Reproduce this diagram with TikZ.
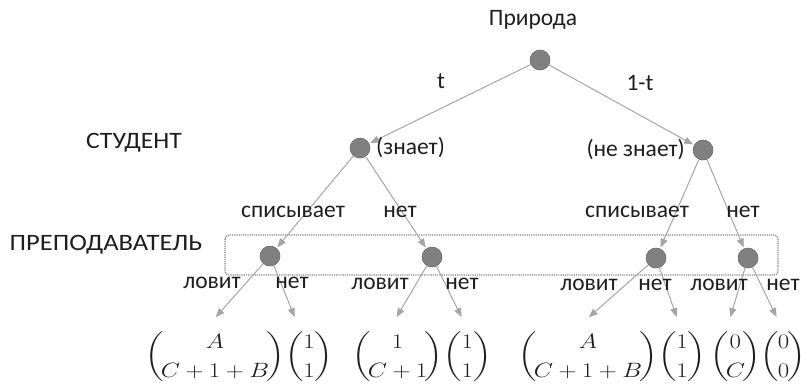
\documentclass[tikz,border=0pt]{standalone}
\usepackage{fontspec}
\usepackage{amsmath}
\usepackage{graphicx}
\setmainfont{Carlito}
\usetikzlibrary{arrows.meta}
\definecolor{edgegray}{RGB}{165,165,165}
\definecolor{dotfill}{RGB}{128,128,128}
\definecolor{ink}{RGB}{30,30,30}
% payoff vector: #1 = padding inside the parentheses, #2 / #3 = entries
\newcommand\payvec[3]{\scalebox{1.2}[1]{$\delimiterfactor=800 \delimitershortfall=10pt
  \renewcommand\arraystretch{1.15}%
  \left(\mskip#1\begin{array}{@{}c@{}}#2\\ #3\end{array}\mskip#1\right)$}}
\tikzset{
  choice/.style={circle,fill=dotfill,draw=dotfill!85!black,line width=0.6pt,minimum size=20pt,inner sep=0pt},
  lbl/.style={text=ink,font=\fontsize{23.5}{27}\selectfont,inner sep=0pt},
  pay/.style={text=ink,font=\fontsize{20}{25}\selectfont,inner sep=0pt},
  move/.style={draw=edgegray,line width=1pt,-{Triangle[length=9pt,width=7pt]},shorten >=1pt},
  infoset/.style={draw=edgegray!80!black,densely dotted,line width=1.2pt,rounded corners=4pt}
}
\begin{document}
\begin{tikzpicture}[x=1pt,y=-1pt]
\useasboundingbox (0,0) rectangle (808,384);

% information set of the teacher
\draw[infoset] (225,235) rectangle (778,275);

% decision nodes
\node[choice] (root) at (540,60) {};
\node[choice] (knows) at (360,148) {};
\node[choice] (notknows) at (703,150) {};
\node[choice] (t1) at (270,256) {};
\node[choice] (t2) at (432,257) {};
\node[choice] (t3) at (656,258) {};
\node[choice] (t4) at (748,258) {};

% terminal arrow ends
\coordinate (e1) at (215,318);
\coordinate (e2) at (295,318);
\coordinate (e3) at (396,318);
\coordinate (e4) at (462,318);
\coordinate (e5) at (588,318);
\coordinate (e6) at (677,318);
\coordinate (e7) at (730,318);
\coordinate (e8) at (777,318);

% moves
\draw[move] (root) -- (knows);
\draw[move] (root) -- (notknows);
\draw[move] (knows) -- (t1);
\draw[move] (knows) -- (t2);
\draw[move] (notknows) -- (t3);
\draw[move] (notknows) -- (t4);
\draw[move] (t1) -- (e1);
\draw[move] (t1) -- (e2);
\draw[move] (t2) -- (e3);
\draw[move] (t2) -- (e4);
\draw[move] (t3) -- (e5);
\draw[move] (t3) -- (e6);
\draw[move] (t4) -- (e7);
\draw[move] (t4) -- (e8);

% players and labels
\node[lbl] (nature) at (533,20) {Природа};
\node[lbl] (student) at (134,143) {\scalebox{1.09}[1]{СТУДЕНТ}};
\node[lbl] (teacher) at (106,245) {\scalebox{1.13}[1]{ПРЕПОДАВАТЕЛЬ}};
\node[lbl] (lt) at (441,81) {t};
\node[lbl] (l1t) at (640,83) {1-t};
\node[lbl,anchor=west] (lknows) at (376,148) {(знает)};
\node[lbl,anchor=east] (lnot) at (685,150) {(не знает)};
\node[lbl] (c1) at (293,212) {списывает};
\node[lbl] (n1) at (400,212) {нет};
\node[lbl] (c2) at (637,212) {списывает};
\node[lbl] (n2) at (743,212) {нет};
\node[lbl] (a1) at (212,283) {ловит};
\node[lbl] (b1) at (292,283) {нет};
\node[lbl] (a2) at (380,284) {ловит};
\node[lbl] (b2) at (462,284) {нет};
\node[lbl] (a3) at (589,285) {ловит};
\node[lbl] (b3) at (655,285) {нет};
\node[lbl] (a4) at (719,285) {ловит};
\node[lbl] (b4) at (783,285) {нет};

% payoffs
\node[pay,anchor=west] (p1) at (145,357) {\payvec{-2mu}{A}{C+1+B}};
\node[pay,anchor=west] (p2) at (p1.east) {\payvec{0mu}{1}{1}};
\node[pay,anchor=west] (p3) at (352,357) {\payvec{-2mu}{1}{C+1}};
\node[pay,anchor=west] (p4) at (p3.east) {\payvec{0mu}{1}{1}};
\node[pay,anchor=west] (p5) at (518,357) {\payvec{-2mu}{A}{C+1+B}};
\node[pay,anchor=west] (p6) at (p5.east) {\payvec{0mu}{1}{1}};
\node[pay,anchor=west] (p7) at (710,357) {\payvec{-2mu}{0}{C}};
\node[pay,anchor=west] (p8) at (p7.east) {\payvec{-1mu}{0}{0}};
\end{tikzpicture}
\end{document}
